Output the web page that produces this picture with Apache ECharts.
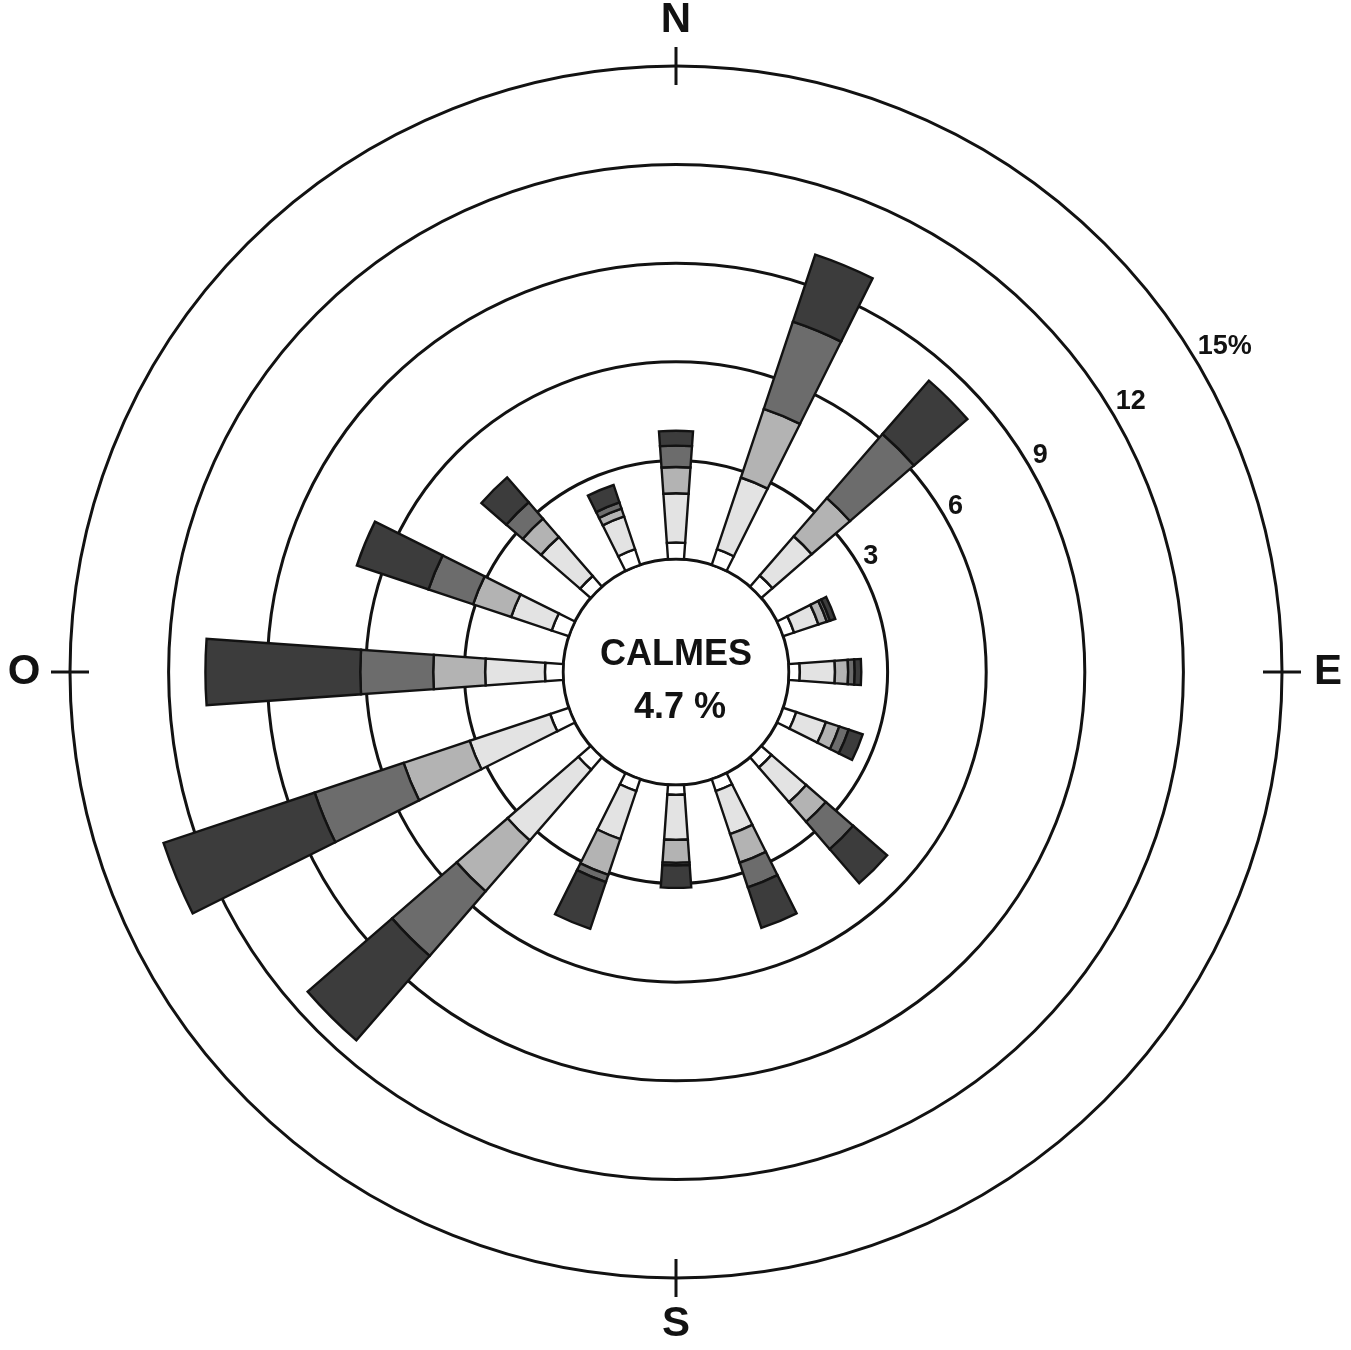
<!DOCTYPE html>
<html>
<head>
<meta charset="utf-8">
<script src="https://cdn.jsdelivr.net/npm/echarts@6/dist/echarts.min.js"></script>
<style>
html,body{margin:0;padding:0;background:#ffffff;}
#chart{width:1351px;height:1350px;}
</style>
</head>
<body>
<div id="chart"></div>
<script>
// ---- data ----
const directions = ['N','NNE','NE','ENE','E','ESE','SE','SSE','S','SSW','SW','WSW','W','WNW','NW','NNW'];
// frequency (%) per speed class, stacked outward from the calm circle
const class0 = [0.50,0.50,0.45,0.35,0.33,0.42,0.41,0.38,0.30,0.38,0.50,0.60,0.55,0.55,0.43,0.50];
const class1 = [1.50,2.30,1.58,0.78,1.07,0.95,1.40,1.38,1.37,1.54,2.85,2.58,1.82,1.30,1.57,1.05];
const class2 = [0.80,2.20,1.54,0.27,0.40,0.43,0.79,0.92,0.70,1.15,2.05,2.12,1.58,1.22,0.74,0.25];
const class3 = [0.65,2.80,2.58,0.10,0.20,0.30,1.10,0.79,0.08,0.23,2.60,2.85,2.22,1.43,0.66,0.20];
const class4 = [0.45,2.15,2.15,0.17,0.20,0.45,1.37,1.30,0.68,1.50,3.40,4.85,4.71,2.30,1.00,0.56];
const ringValues = [3,6,9,12,15];
const ringLabels = ['3','6','9','12','15%'];
const cardinalValues = [0,90,180,270];
const cardinalNames = ['N','E','S','O'];
const calmTitle = 'CALMES';
const calmPercent = 4.7;

// ---- layout / style ----
const CX = 676, CY = 672, R_IN = 113, R_OUT = 606;
const LABEL_BEARING = 59.3;
const CARDINAL_GAP = 46;
const classColors = ['#ffffff','#e3e3e3','#b3b3b3','#6c6c6c','#3c3c3c'];
const INK = '#121212';
const FONT = '"Liberation Sans", Arial, Helvetica, sans-serif';

const measureCtx = document.createElement('canvas').getContext('2d');
function textWidth(t, font){ measureCtx.font = font; return measureCtx.measureText(t).width; }

const chart = echarts.init(document.getElementById('chart'), null, {renderer:'canvas'});

const polarBox = {center:[CX, CY], radius:[R_IN, R_OUT]};
const hiddenAngle = {axisLine:{show:false}, axisTick:{show:false}, axisLabel:{show:false}, splitLine:{show:false}, splitArea:{show:false}};
const hiddenRadius = {type:'value', min:0, max:15, axisLine:{show:false}, axisTick:{show:false}, axisLabel:{show:false}, splitLine:{show:false}};

const classes = [class0, class1, class2, class3, class4];
const barSeries = classes.map((d, i) => ({
  type:'bar', name:'c'+i, coordinateSystem:'polar', polarIndex:0, stack:'wind',
  data:d, barWidth:'36%', silent:true,
  itemStyle:{color:classColors[i], borderColor:INK, borderWidth:2.4}
}));

const ringFont = 'bold 27px ' + FONT;
const ringSeries = {
  type:'custom', coordinateSystem:'polar', polarIndex:1, silent:true, z:10,
  data: ringValues.map(v => [v, LABEL_BEARING]),
  renderItem: function(params, api){
    const p = api.coord([api.value(0), api.value(1)]);
    const dx = p[0]-CX, dy = p[1]-CY, len = Math.hypot(dx, dy) || 1;
    const txt = ringLabels[params.dataIndex];
    const off = 8 + 0.45 * textWidth(txt, ringFont);
    return {
      type:'text', x:p[0] + dx/len*off, y:p[1] + dy/len*off,
      style:{text:txt, font:ringFont, fill:INK, align:'center', verticalAlign:'middle'}
    };
  }
};

const cardFont = 'bold 42px ' + FONT;
const cardinalSeries = {
  type:'custom', coordinateSystem:'polar', polarIndex:1, silent:true, z:10,
  data: cardinalValues.map(a => [15, a]),
  renderItem: function(params, api){
    const p = api.coord([api.value(0), api.value(1)]);
    const dx = p[0]-CX, dy = p[1]-CY, len = Math.hypot(dx, dy) || 1;
    return {
      type:'text', x:p[0] + dx/len*CARDINAL_GAP, y:p[1] + dy/len*CARDINAL_GAP,
      style:{text:cardinalNames[params.dataIndex], font:cardFont, fill:INK, align:'center', verticalAlign:'middle'}
    };
  }
};

const option = {
  animation:false,
  backgroundColor:'#ffffff',
  polar:[polarBox, polarBox, polarBox],
  angleAxis:[
    Object.assign({polarIndex:0, type:'category', data:directions, startAngle:90 + 360/directions.length/2, clockwise:true}, hiddenAngle),
    {polarIndex:1, type:'value', min:0, max:360, interval:90, startAngle:90, clockwise:true,
     axisLine:{show:false}, splitLine:{show:false}, splitArea:{show:false}, axisLabel:{show:false},
     axisTick:{show:true, length:19, lineStyle:{color:INK, width:3}}},
    {polarIndex:2, type:'value', min:0, max:360, interval:90, startAngle:90, clockwise:true,
     axisLine:{show:false}, splitLine:{show:false}, splitArea:{show:false}, axisLabel:{show:false},
     axisTick:{show:true, inside:true, length:19, lineStyle:{color:INK, width:3}}}
  ],
  radiusAxis:[
    {polarIndex:0, type:'value', min:0, max:15, interval:3,
     axisLine:{show:false}, axisTick:{show:false}, axisLabel:{show:false},
     splitLine:{show:true, lineStyle:{color:INK, width:3}}, splitArea:{show:false}},
    Object.assign({polarIndex:1}, hiddenRadius),
    Object.assign({polarIndex:2}, hiddenRadius)
  ],
  graphic:[
    {type:'text', x:CX, y:655, z:100, style:{text:calmTitle, font:'bold 36px ' + FONT, fill:INK, align:'center', verticalAlign:'middle'}},
    {type:'text', x:CX + 4, y:708, z:100, style:{text:calmPercent.toFixed(1) + ' %', font:'bold 36px ' + FONT, fill:INK, align:'center', verticalAlign:'middle'}}
  ],
  series: barSeries.concat([ringSeries, cardinalSeries])
};
chart.setOption(option);
</script>
</body>
</html>
